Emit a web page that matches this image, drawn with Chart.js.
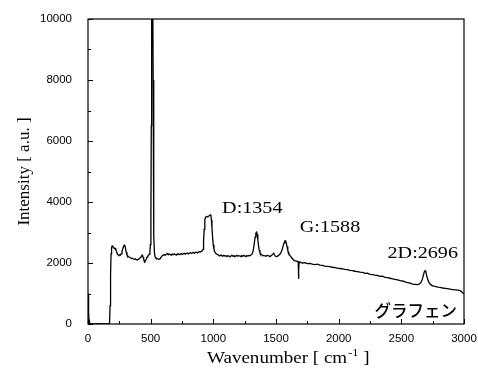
<!DOCTYPE html>
<html>
<head>
<meta charset="utf-8">
<script src="https://cdn.jsdelivr.net/npm/chart.js@4/dist/chart.umd.min.js"></script>
<style>
  html, body { margin: 0; padding: 0; background: #fff; }
  canvas { display: block; }
</style>
</head>
<body>
<canvas id="ramanChart" width="478" height="376"></canvas>
<script>
// Raman spectrum (graphene on Si)
const wavenumber = [
  0, 3, 6, 9, 12, 16, 30, 50, 80, 110, 140, 165, 172, 176, 180, 184, 188, 193, 199, 205,
  211, 217, 223, 229, 235, 241, 247, 253, 259, 265, 271, 277, 283, 289, 294, 299, 305, 311, 317, 323,
  330, 338, 346, 354, 362, 370, 378, 386, 394, 402, 410, 418, 424, 429, 434, 439, 444, 449, 454, 459,
  465, 471, 477, 483, 489, 494, 498, 502, 505, 508, 511, 514, 517, 520, 523, 526, 530, 535, 541, 548,
  555, 562, 569, 576, 584, 592, 600, 608, 616, 624, 632, 640, 648, 656, 664, 672, 680, 688, 696, 704,
  712, 720, 728, 736, 744, 752, 760, 768, 776, 784, 792, 800, 808, 816, 824, 832, 840, 848, 856, 864,
  872, 880, 888, 896, 904, 912, 918, 922, 927, 932, 937, 943, 950, 957, 964, 970, 976, 981, 985, 989,
  994, 999, 1005, 1012, 1020, 1028, 1036, 1044, 1052, 1060, 1068, 1076, 1084, 1092, 1100, 1108, 1116, 1124, 1132, 1140,
  1148, 1156, 1164, 1172, 1180, 1188, 1196, 1204, 1212, 1220, 1228, 1236, 1244, 1252, 1260, 1268, 1276, 1284, 1292, 1300,
  1308, 1315, 1321, 1327, 1333, 1339, 1345, 1350, 1355, 1360, 1366, 1372, 1380, 1388, 1396, 1404, 1412, 1420, 1428, 1436,
  1444, 1452, 1460, 1468, 1476, 1482, 1488, 1494, 1502, 1510, 1518, 1526, 1534, 1542, 1550, 1557, 1564, 1570, 1576, 1582,
  1588, 1594, 1600, 1608, 1616, 1624, 1632, 1640, 1648, 1656, 1664, 1672, 1677, 1679, 1681, 1683, 1685, 1692, 1700, 1710,
  1730, 1750, 1770, 1790, 1810, 1830, 1850, 1870, 1890, 1910, 1930, 1950, 1970, 1990, 2010, 2030, 2050, 2070, 2090, 2110,
  2130, 2150, 2170, 2190, 2210, 2230, 2250, 2270, 2290, 2310, 2330, 2350, 2370, 2390, 2410, 2430, 2450, 2470, 2490, 2510,
  2530, 2550, 2570, 2590, 2610, 2630, 2645, 2658, 2668, 2676, 2684, 2690, 2696, 2703, 2712, 2722, 2735, 2750, 2770, 2790,
  2810, 2830, 2850, 2870, 2890, 2910, 2930, 2950, 2965, 2975, 2985, 2993, 3000
];
const intensity = [
  1000, 700, 350, 120, 40, 15, 10, 5, 8, 3, 6, 5, 30, 600, 1600, 2300, 2500, 2560, 2540, 2500,
  2470, 2480, 2430, 2350, 2290, 2260, 2250, 2270, 2260, 2300, 2380, 2460, 2540, 2590, 2580, 2480, 2350, 2270, 2230, 2210,
  2190, 2170, 2150, 2160, 2130, 2120, 2140, 2110, 2100, 2120, 2150, 2170, 2210, 2250, 2260, 2200, 2130, 2070, 2050, 2080,
  2130, 2190, 2230, 2260, 2290, 2380, 2600, 3600, 6500, 10500, 13000, 13600, 11500, 8000, 4800, 2900, 2350, 2200, 2160, 2150,
  2140, 2120, 2130, 2140, 2190, 2240, 2260, 2280, 2250, 2290, 2310, 2270, 2300, 2280, 2260, 2290, 2270, 2300, 2280, 2260,
  2290, 2300, 2270, 2290, 2310, 2280, 2300, 2320, 2290, 2310, 2330, 2300, 2320, 2340, 2310, 2330, 2350, 2320, 2340, 2360,
  2330, 2350, 2370, 2360, 2380, 2400, 2450, 2700, 3100, 3400, 3500, 3520, 3510, 3530, 3540, 3560, 3580, 3540, 3400, 3150,
  2850, 2600, 2450, 2360, 2310, 2290, 2270, 2250, 2230, 2260, 2240, 2220, 2250, 2230, 2240, 2210, 2240, 2230, 2200, 2230,
  2250, 2220, 2240, 2210, 2230, 2250, 2220, 2240, 2230, 2210, 2240, 2220, 2250, 2230, 2210, 2240, 2230, 2250, 2240, 2260,
  2290, 2360, 2480, 2650, 2850, 2980, 3010, 2940, 2770, 2580, 2430, 2340, 2290, 2260, 2240, 2250, 2230, 2220, 2250, 2240,
  2230, 2210, 2240, 2260, 2300, 2320, 2270, 2230, 2210, 2220, 2240, 2270, 2300, 2360, 2450, 2560, 2660, 2720, 2730, 2660,
  2540, 2420, 2340, 2270, 2220, 2180, 2140, 2100, 2080, 2070, 2060, 2050, 2040, 1750, 1480, 1800, 2040, 2030, 2015, 2000,
  2010, 1980, 1990, 1960, 1950, 1960, 1930, 1920, 1900, 1890, 1880, 1860, 1850, 1830, 1820, 1810, 1790, 1780, 1760, 1750,
  1730, 1720, 1700, 1690, 1660, 1670, 1630, 1620, 1600, 1590, 1560, 1570, 1530, 1520, 1500, 1480, 1460, 1450, 1420, 1410,
  1380, 1360, 1340, 1310, 1300, 1290, 1310, 1370, 1470, 1600, 1720, 1750, 1700, 1580, 1440, 1350, 1290, 1250, 1230, 1210,
  1200, 1180, 1170, 1160, 1140, 1130, 1120, 1110, 1100, 1080, 1040, 1010, 990
];

// tick values and labels
const xTickValues = [0, 500, 1000, 1500, 2000, 2500, 3000];
const yTickValues = [0, 2000, 4000, 6000, 8000, 10000];
const xMinorStep = 250;
const yMinorStep = 1000;

const peakLabels = ['D:1354', 'G:1588', '2D:2696'];
const sampleName = 'グラフェン';

const SERIF = '"Liberation Serif", "Times New Roman", serif';
const SANS = '"Liberation Sans", Arial, sans-serif';

// frame, inward ticks, titles and annotations
const decorPlugin = {
  id: 'decor',
  afterDraw(chart) {
    const { ctx, chartArea: a, scales: { x, y } } = chart;
    ctx.save();
    ctx.strokeStyle = '#000';
    ctx.lineWidth = 1.2;
    ctx.strokeRect(a.left, a.top, a.right - a.left, a.bottom - a.top);

    ctx.lineWidth = 1;
    ctx.beginPath();
    for (let v = 0; v <= 3000; v += xMinorStep) {
      const px = Math.round(x.getPixelForValue(v)) + 0.5;
      const len = v % 500 === 0 ? 5 : 3;
      ctx.moveTo(px, a.bottom);
      ctx.lineTo(px, a.bottom - len);
    }
    for (let v = 0; v <= 10000; v += yMinorStep) {
      const py = Math.round(y.getPixelForValue(v)) + 0.5;
      const len = v % 2000 === 0 ? 5 : 3;
      ctx.moveTo(a.left, py);
      ctx.lineTo(a.left + len, py);
    }
    ctx.stroke();

    ctx.fillStyle = '#000';
    ctx.textBaseline = 'alphabetic';

    // wide serif text
    const serifText = (txt, px, py, size) => {
      ctx.save();
      ctx.translate(px, py);
      ctx.scale(1.15, 1);
      ctx.font = size + 'px ' + SERIF;
      ctx.textAlign = 'left';
      ctx.fillText(txt, 0, 0);
      ctx.restore();
    };

    // peak labels, anchored in data units
    serifText(peakLabels[0], x.getPixelForValue(1070), y.getPixelForValue(3650), 17.5);
    serifText(peakLabels[1], x.getPixelForValue(1690), y.getPixelForValue(3010), 17.5);
    serifText(peakLabels[2], x.getPixelForValue(2390), y.getPixelForValue(2155), 17.5);

    ctx.font = '500 16.5px "Noto Sans CJK JP", sans-serif';
    ctx.textAlign = 'left';
    ctx.fillText(sampleName, x.getPixelForValue(2285), y.getPixelForValue(240));

    // y title
    ctx.save();
    ctx.translate(29, (a.top + a.bottom) / 2);
    ctx.rotate(-Math.PI / 2);
    ctx.font = '17px ' + SERIF;
    ctx.textAlign = 'center';
    ctx.fillText('Intensity [ a.u. ]', 0, 0);
    ctx.restore();

    // x title with superscript
    ctx.save();
    ctx.translate(207, 363);
    ctx.scale(1.12, 1);
    ctx.font = '17px ' + SERIF;
    ctx.textAlign = 'left';
    let cx = 0;
    ctx.fillText('Wavenumber [ cm', cx, 0);
    cx += ctx.measureText('Wavenumber [ cm').width;
    ctx.font = '11px ' + SERIF;
    ctx.fillText('-1', cx + 1, -7);
    cx += ctx.measureText('-1').width + 1;
    ctx.font = '17px ' + SERIF;
    ctx.fillText(' ]', cx, 0);
    ctx.restore();

    ctx.restore();
  }
};

const points = wavenumber.map((w, i) => ({ x: w, y: intensity[i] }));

new Chart(document.getElementById('ramanChart'), {
  type: 'scatter',
  data: {
    datasets: [{
      data: points,
      showLine: true,
      borderColor: '#000',
      borderWidth: 1.3,
      pointRadius: 0,
      tension: 0,
      clip: 0
    }]
  },
  options: {
    responsive: false,
    animation: false,
    devicePixelRatio: 1,
    layout: { padding: { top: 19, right: 14, left: 0, bottom: 0 } },
    plugins: {
      legend: { display: false },
      tooltip: { enabled: false }
    },
    scales: {
      x: {
        type: 'linear',
        min: 0,
        max: 3000,
        afterBuildTicks: (s) => { s.ticks = xTickValues.map(v => ({ value: v })); },
        afterFit: (s) => { s.height = 52; },
        grid: { display: false },
        border: { display: false },
        ticks: {
          color: '#000',
          font: { family: SANS, size: 11.5 },
          padding: 0,
          maxRotation: 0,
          autoSkip: false,
          callback: (v) => String(v)
        }
      },
      y: {
        min: 0,
        max: 10000,
        afterBuildTicks: (s) => { s.ticks = yTickValues.map(v => ({ value: v })); },
        afterFit: (s) => { s.width = 88; },
        grid: { display: false },
        border: { display: false },
        ticks: {
          color: '#000',
          font: { family: SANS, size: 11.5 },
          padding: 8,
          autoSkip: false,
          callback: (v) => String(v)
        }
      }
    }
  },
  plugins: [decorPlugin]
});
</script>
</body>
</html>
